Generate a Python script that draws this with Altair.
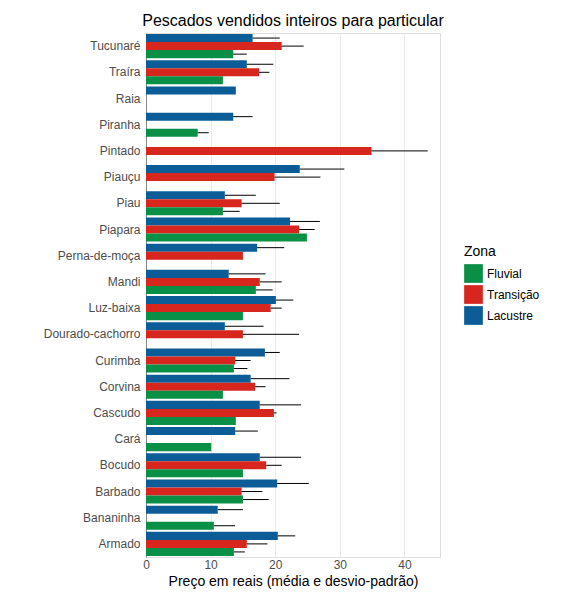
import altair as alt
import pandas as pd

species = ["Tucunaré", "Traíra", "Raia", "Piranha", "Pintado", "Piauçu", "Piau",
           "Piapara", "Perna-de-moça", "Mandi", "Luz-baixa", "Dourado-cachorro",
           "Curimba", "Corvina", "Cascudo", "Cará", "Bocudo", "Barbado",
           "Bananinha", "Armado"]

lac_mean = [16.5, 15.6, 13.9, 13.5, None, 23.8, 12.2, 22.3, 17.2, 12.8,
            20.1, 12.2, 18.4, 16.2, 17.6, 13.8, 17.6, 20.3, 11.1, 20.4]
lac_sd = [4.2, 4.1, None, 3.0, None, 6.9, 4.8, 4.6, 4.2, 5.7,
          2.7, 6.0, 2.3, 6.0, 6.4, 3.5, 6.4, 4.9, 3.9, 2.7]
tra_mean = [21.0, 17.5, None, None, 34.9, 19.9, 14.8, 23.7, 15.0, 17.6,
            19.3, 15.0, 13.8, 16.9, 19.8, None, 18.6, 14.8, None, 15.6]
tra_sd = [3.4, 1.6, None, None, 8.7, 7.1, 5.9, 2.4, None, 3.4,
          1.7, 8.7, 2.4, 1.6, 0.4, None, 2.4, 3.2, None, 3.2]
flu_mean = [13.5, 11.9, None, 8.0, None, None, 11.9, 24.9, None, 17.0,
            15.0, None, 13.6, 11.9, 13.9, 10.1, 15.0, 15.0, 10.5, 13.6]
flu_sd = [2.1, None, None, 1.7, None, None, 2.6, None, None, 2.6,
          None, None, 2.1, None, None, None, None, 4.0, 3.3, 1.7]

zones = ["Fluvial", "Transição", "Lacustre"]
colors = ["#0a8f47", "#d7261e", "#0b5c97"]

rows = []
for zona, means, sds in [("Lacustre", lac_mean, lac_sd), ("Transição", tra_mean, tra_sd),
                         ("Fluvial", flu_mean, flu_sd)]:
    for sp, m, s in zip(species, means, sds):
        if m is None:
            continue
        rows.append({"especie": sp, "zona": zona, "media": m,
                     "sup": m + s if s is not None else None})
df = pd.DataFrame(rows)

y = alt.Y("especie:N", sort=species, title=None,
          scale=alt.Scale(paddingInner=0.08, paddingOuter=0.04),
          axis=alt.Axis(labelColor="#4d4d4d", labelFontSize=12, ticks=False,
                        gridColor="#ebebeb", labelPadding=6))
yoff = alt.YOffset("zona:N", sort=["Lacustre", "Transição", "Fluvial"])

bars = alt.Chart(df).mark_bar().encode(
    x=alt.X("media:Q", title="Preço em reais (média e desvio-padrão)",
            scale=alt.Scale(domain=[0, 45.5], nice=False),
            axis=alt.Axis(values=list(range(0, 46, 5)), ticks=False,
                          labelExpr="datum.value % 10 == 0 ? datum.label : ''",
                          labelColor="#4d4d4d", labelFontSize=12, titleFontSize=14,
                          titleFontWeight="normal", titleColor="#000000",
                          gridColor="#ebebeb", domain=False, labelFlush=False)),
    y=y,
    yOffset=yoff,
    color=alt.Color("zona:N", title="Zona",
                    scale=alt.Scale(domain=zones, range=colors),
                    legend=alt.Legend(symbolType="square", symbolSize=350,
                                      symbolStrokeWidth=0, labelFontSize=12,
                                      titleFontSize=14, titleFontWeight="normal",
                                      orient="none", legendX=318, legendY=212)),
)

errs = alt.Chart(df).transform_filter("datum.sup != null").mark_rule(
    color="black", strokeWidth=1).encode(
    x="media:Q", x2="sup:Q", y=y, yOffset=yoff)

chart = (bars + errs).properties(
    width=294, height=524,
    padding={"left": 35, "top": 5, "right": 5, "bottom": 5},
    title=alt.Title("Pescados vendidos inteiros para particular", fontSize=16,
                    fontWeight="normal", anchor="middle"),
).configure_view(strokeWidth=0).configure(font="Liberation Sans")

chart.save("out.html", embed_options={"renderer": "svg", "actions": False})
